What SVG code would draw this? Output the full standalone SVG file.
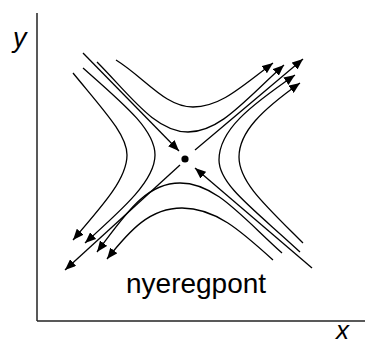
<svg xmlns="http://www.w3.org/2000/svg" width="365" height="345" viewBox="0 0 365 345">
<style>
.ax{stroke:#222;stroke-width:1.5;fill:none}
.c{stroke:#000;stroke-width:1.3;fill:none}
.a{marker-end:url(#ah)}
.lbl{font-family:"Liberation Sans",Arial,sans-serif;fill:#000}
.it{font-style:italic}
</style>
<defs>
<marker id="ah" viewBox="0 0 11 9" refX="11" refY="4.5" markerWidth="11" markerHeight="9" markerUnits="userSpaceOnUse" orient="auto">
<path d="M0,0 L11,4.5 L0,9 Z" fill="#000"/>
</marker>
</defs>
<g id="axes">
<line class="ax" x1="37" y1="13" x2="37" y2="321"/>
<line class="ax" x1="37" y1="321" x2="365" y2="321"/>
<text class="lbl it" x="13" y="47" font-size="27">y</text>
<text class="lbl it" x="336" y="339" font-size="26">x</text>
</g>
<g id="connectors">
<path class="c a" d="M73,73 C105,112 127,135 127,155 C127,178 105,203 73,240"/>
<path class="c a" d="M83,68 C125,105 155,130 155,155 C155,180 125,207 85,243"/>
<path class="c a" d="M116,60 C145,78 165,107 193,107 C220,107 240,88 273,63"/>
<path class="c a" d="M97,62 C130,95 155,132 188,132 C220,132 245,100 284,65"/>
<path class="c a" d="M300,252 C255,210 219,185 219,160 C219,130 250,106 295,75"/>
<path class="c a" d="M303,243 C265,205 239,182 239,157 C239,132 262,110 300,83"/>
<path class="c a" d="M282,253 C240,215 215,183 180,183 C145,183 125,215 97,252"/>
<path class="c a" d="M273,260 C240,230 215,208 182,208 C150,208 130,230 107,259"/>
<path class="c a" d="M83,53 L179,151"/>
<path class="c a" d="M195,150 L303,59"/>
<path class="c a" d="M180,165 L65,270"/>
<path class="c a" d="M312,268 L195,168"/>
</g>
<g id="saddle">
<circle cx="185" cy="159" r="3.6" fill="#000"/>
</g>
<g id="label">
<text class="lbl" x="126" y="293" font-size="28">nyeregpont</text>
</g>
</svg>
